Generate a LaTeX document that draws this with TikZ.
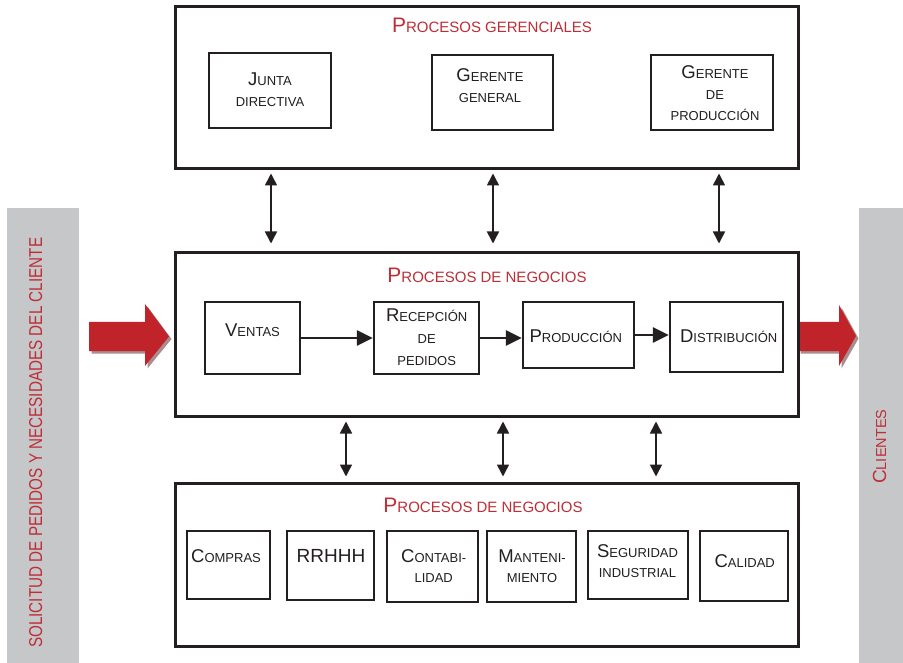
\documentclass[tikz,border=0pt]{standalone}
\usepackage{fontspec}
\setmainfont{Liberation Sans}
\usepackage{graphicx}
\usetikzlibrary{arrows.meta}
\definecolor{ink}{HTML}{231F20}
\definecolor{tred}{HTML}{BE2E37}
\definecolor{ared}{HTML}{C1232A}
\definecolor{shad}{HTML}{A88C8E}
\definecolor{barc}{HTML}{C6C7C9}
\newcommand\Bg[1]{{\fontsize{18.5}{20}\selectfont #1}}
\newcommand\TBg[1]{{\fontsize{21}{24}\selectfont #1}}
\tikzset{
  outerbox/.style={draw=ink, line width=3pt, minimum width=623pt, inner sep=0pt},
  innerbox/.style={draw=ink, line width=2.4pt, inner sep=0pt},
  lbl/.style={anchor=base, inner sep=0pt, text=ink, font=\fontsize{13}{15}\selectfont},
  ttl/.style={anchor=base, inner sep=0pt, text=tred, font=\fontsize{15}{18}\selectfont},
  varrow/.style={draw=ink, line width=1.6pt, {Triangle[length=12pt,width=12pt]}-{Triangle[length=12pt,width=12pt]}},
  harrow/.style={draw=ink, line width=2.6pt, -{Triangle[length=16pt,width=15pt]}},
  graybar/.style={fill=barc, draw=none, inner sep=0pt},
  redarrow/.style={fill=ared, draw=none},
  redshadow/.style={fill=shad, draw=none}
}
\begin{document}
\begin{tikzpicture}[x=1pt,y=-1pt]
\useasboundingbox (0,0) rectangle (903,663);
\fill[white] (0,0) rectangle (903,663);

% side bars
\node[graybar, minimum width=72pt, minimum height=455pt] (leftbar) at (43,435.5) {};
\node[graybar, minimum width=44pt, minimum height=455pt] (rightbar) at (881,435.5) {};
\node[rotate=90, anchor=base west, inner sep=0pt, text=tred] (lefttext) at (42,648)
  {\resizebox{410pt}{13pt}{SOLICITUD DE PEDIDOS Y NECESIDADES DEL CLIENTE}};
\node[rotate=90, anchor=base west, inner sep=0pt, text=tred, font=\fontsize{14.5}{16}\selectfont] (righttext) at (886,484)
  {{\fontsize{19}{20}\selectfont C}LIENTES};

% red block arrows
\fill[redshadow, shift={(2.5,2.5)}] (89,322) -- (145,322) -- (145,304) -- (169,336.5) -- (145,366) -- (145,351) -- (89,351) -- cycle;
\fill[redarrow] (89,322) -- (145,322) -- (145,304) -- (169,336.5) -- (145,366) -- (145,351) -- (89,351) -- cycle;
\fill[redshadow, shift={(2.5,2.5)}] (798,322) -- (839,322) -- (839,305) -- (856,336) -- (839,366) -- (839,351) -- (798,351) -- cycle;
\fill[redarrow] (798,322) -- (839,322) -- (839,305) -- (856,336) -- (839,366) -- (839,351) -- (798,351) -- cycle;

% outer boxes
\node[outerbox, minimum height=162pt] (top) at (486.5,88) {};
\node[outerbox, minimum height=163pt] (mid) at (486.5,334.5) {};
\node[outerbox, minimum height=163pt] (bot) at (486.5,564.5) {};

% titles
\node[ttl] (ttop) at (492,33) {\TBg{P}ROCESOS GERENCIALES};
\node[ttl] (tmid) at (487,283) {\TBg{P}ROCESOS DE NEGOCIOS};
\node[ttl] (tbot) at (483,512) {\TBg{P}ROCESOS DE NEGOCIOS};

% top inner boxes
\node[innerbox, minimum width=122pt, minimum height=75pt] (junta) at (270,90.5) {};
\node[innerbox, minimum width=121pt, minimum height=75pt] (gergen) at (492.5,92.5) {};
\node[innerbox, minimum width=122pt, minimum height=75pt] (gerprod) at (712,92.5) {};
\node[lbl] (junta1) at (270,86) {\Bg{J}UNTA};
\node[lbl] (junta2) at (270,107) {DIRECTIVA};
\node[lbl] (gergen1) at (490,82) {\Bg{G}ERENTE};
\node[lbl] (gergen2) at (490,103) {GENERAL};
\node[lbl] (gerprod1) at (715,79) {\Bg{G}ERENTE};
\node[lbl] (gerprod2) at (715,100) {DE};
\node[lbl] (gerprod3) at (715,121) {PRODUCCIÓN};

% middle inner boxes
\node[innerbox, minimum width=95pt, minimum height=72pt] (ventas) at (252.5,338) {};
\node[innerbox, minimum width=105pt, minimum height=72pt] (recep) at (426.5,338) {};
\node[innerbox, minimum width=111pt, minimum height=66pt] (prod) at (578.5,335) {};
\node[innerbox, minimum width=113pt, minimum height=70pt] (dist) at (726.5,337) {};
\node[lbl] (ventas1) at (252.5,337) {\Bg{V}ENTAS};
\node[lbl] (recep1) at (426.7,322) {\Bg{R}ECEPCIÓN};
\node[lbl] (recep2) at (426.7,343) {DE};
\node[lbl] (recep3) at (426.7,365) {PEDIDOS};
\node[lbl] (prod1) at (575.8,342) {\Bg{P}RODUCCIÓN};
\node[lbl] (dist1) at (728.7,342) {\Bg{D}ISTRIBUCIÓN};

% bottom inner boxes
\node[innerbox, minimum width=83pt, minimum height=68pt] (compras) at (228.5,565) {};
\node[innerbox, minimum width=87pt, minimum height=69pt] (rrhh) at (330.5,565.5) {};
\node[innerbox, minimum width=91pt, minimum height=71pt] (contab) at (432.5,566.5) {};
\node[innerbox, minimum width=89pt, minimum height=71pt] (mant) at (531.5,566.5) {};
\node[innerbox, minimum width=100pt, minimum height=68pt] (segur) at (638,565) {};
\node[innerbox, minimum width=88pt, minimum height=70pt] (calid) at (744,566) {};
\node[lbl] (compras1) at (226,562) {\Bg{C}OMPRAS};
\node[lbl, font=\fontsize{19}{20}\selectfont] (rrhh1) at (331,562) {RRHHH};
\node[lbl] (contab1) at (433.7,562) {\Bg{C}ONTABI-};
\node[lbl] (contab2) at (433.7,582) {LIDAD};
\node[lbl] (mant1) at (532,562) {\Bg{M}ANTENI-};
\node[lbl] (mant2) at (532,582) {MIENTO};
\node[lbl] (segur1) at (637.5,557) {\Bg{S}EGURIDAD};
\node[lbl] (segur2) at (637.5,577) {INDUSTRIAL};
\node[lbl] (calid1) at (744.7,567) {\Bg{C}ALIDAD};

% vertical connectors
\coordinate (va) at (271,0);
\coordinate (vb) at (493,0);
\coordinate (vc) at (719,0);
\coordinate (vd) at (346,0);
\coordinate (ve) at (503,0);
\coordinate (vf) at (656,0);
\draw[varrow, shorten <=3pt, shorten >=8pt] (top.south -| va) -- (mid.north -| va);
\draw[varrow, shorten <=3pt, shorten >=8pt] (top.south -| vb) -- (mid.north -| vb);
\draw[varrow, shorten <=3pt, shorten >=8pt] (top.south -| vc) -- (mid.north -| vc);
\draw[varrow, shorten <=4pt, shorten >=5pt] (mid.south -| vd) -- (bot.north -| vd);
\draw[varrow, shorten <=4pt, shorten >=5pt] (mid.south -| ve) -- (bot.north -| ve);
\draw[varrow, shorten <=4pt, shorten >=5pt] (mid.south -| vf) -- (bot.north -| vf);

% flow connectors
\draw[harrow] (ventas.east) -- (ventas.east -| recep.west);
\draw[harrow] (recep.east) -- (recep.east -| prod.west);
\draw[harrow] (prod.east) -- (prod.east -| dist.west);
\end{tikzpicture}
\end{document}
